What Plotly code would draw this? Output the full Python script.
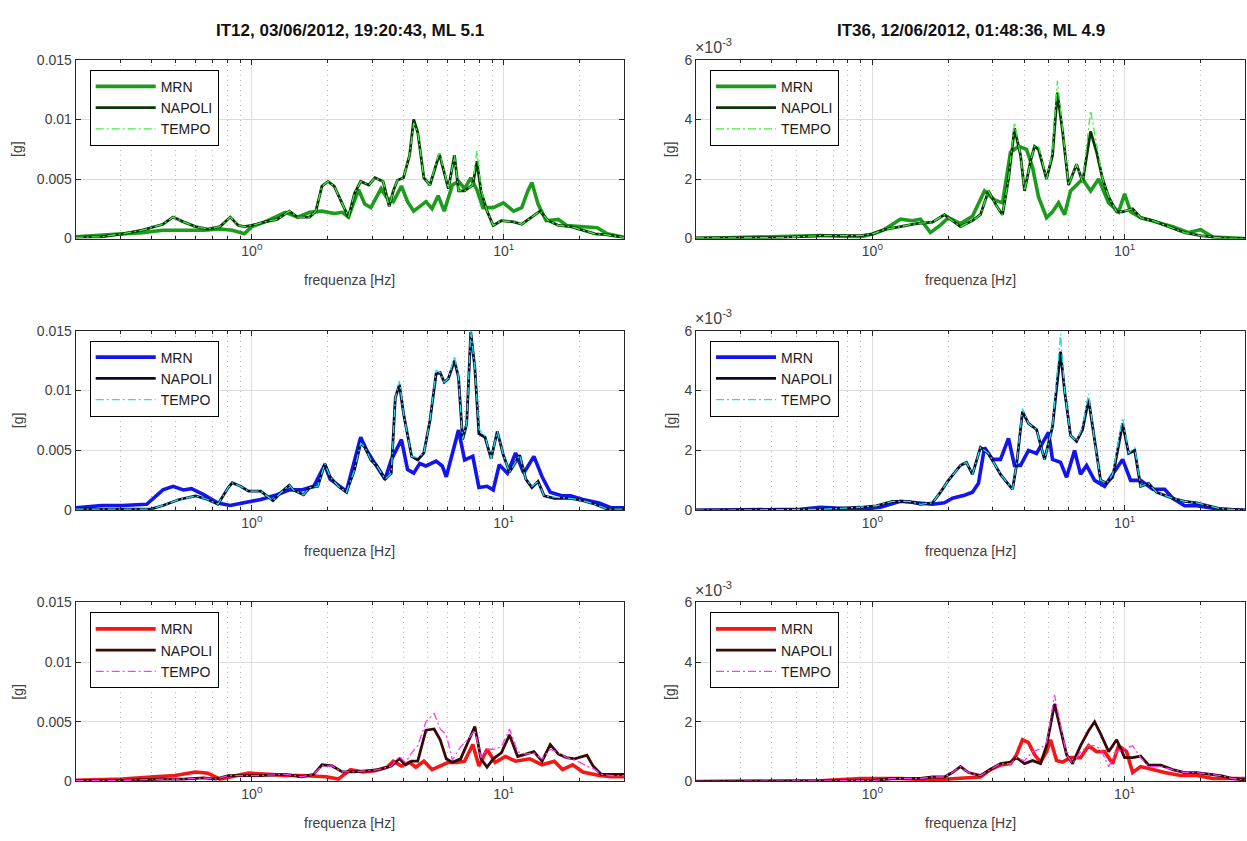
import math
import plotly.graph_objects as go

W, H = 1247, 841

# ---------------------------------------------------------------------------
# IT12, 03/06/2012, 19:20:43, ML 5.1  (left column)
# ---------------------------------------------------------------------------
it12_green_freq = [0.200, 0.254, 0.306, 0.368, 0.444, 0.487, 0.535, 0.598, 0.669, 0.748,
                   0.821, 0.884, 0.935, 1.0, 1.127, 1.260, 1.409, 1.518, 1.697, 1.795,
                   1.898, 2.007, 2.123, 2.287, 2.418, 2.557, 2.704, 2.913, 3.081, 3.319,
                   3.510, 3.643, 3.782, 3.999, 4.229, 4.390, 4.556, 4.818, 5.095, 5.551,
                   5.803, 6.026, 6.372, 6.613, 6.993, 7.534, 7.820, 8.117, 8.584, 9.078,
                   9.779, 10.94, 11.78, 13.17, 13.93, 15.01, 16.48, 18.42, 20.60, 23.04,
                   25.76, 30.0]
it12_green_napoli = [0.0001, 0.00015, 0.0004, 0.0007, 0.0012, 0.0018, 0.0014, 0.0010, 0.0008, 0.0010,
                     0.0018, 0.0011, 0.0010, 0.0011, 0.0014, 0.0016, 0.0023, 0.0018, 0.0018, 0.0023,
                     0.0044, 0.0048, 0.0044, 0.0029, 0.0018, 0.0038, 0.0048, 0.0045, 0.0051, 0.0048,
                     0.0027, 0.0040, 0.0049, 0.0051, 0.0070, 0.0100, 0.0089, 0.0051, 0.0045, 0.0071,
                     0.0056, 0.0042, 0.0070, 0.0040, 0.0040, 0.0045, 0.0065, 0.0040, 0.0023, 0.0011,
                     0.0015, 0.0014, 0.0012, 0.0019, 0.0023, 0.0015, 0.0011, 0.0010, 0.0007, 0.0004,
                     0.0003, 0.0001]
it12_green_tempo = [0.0001, 0.00015, 0.0004, 0.0007, 0.0012, 0.0018, 0.0014, 0.0010, 0.0008, 0.0010,
                    0.0018, 0.0011, 0.0010, 0.0011, 0.0014, 0.0016, 0.0023, 0.0018, 0.0018, 0.0023,
                    0.0044, 0.0048, 0.0044, 0.0029, 0.0018, 0.0038, 0.0048, 0.0045, 0.0051, 0.0048,
                    0.0027, 0.0040, 0.0049, 0.0051, 0.0070, 0.0097, 0.0089, 0.0051, 0.0045, 0.0073,
                    0.0056, 0.0042, 0.0070, 0.0040, 0.0040, 0.0045, 0.0074, 0.0042, 0.0023, 0.0011,
                    0.0015, 0.0014, 0.0012, 0.0019, 0.0023, 0.0015, 0.0011, 0.0010, 0.0007, 0.0004,
                    0.0003, 0.0001]
it12_green_mrn_freq = [0.200, 0.254, 0.306, 0.368, 0.444, 0.535, 0.644, 0.748, 0.836, 0.935,
                       1.0, 1.127, 1.357, 1.518, 1.697, 1.898, 2.123, 2.287, 2.418, 2.654,
                       2.807, 2.968, 3.259, 3.445, 3.643, 3.925, 4.151, 4.390, 4.642, 4.909,
                       5.191, 5.489, 5.803, 6.254, 6.613, 6.993, 7.395, 7.820, 8.269, 9.078,
                       9.963, 10.94, 11.78, 12.46, 12.93, 13.68, 14.73, 16.48, 17.75, 19.85,
                       23.48, 25.76, 30.0]
it12_green_mrn = [0.00015, 0.0003, 0.0004, 0.0005, 0.0007, 0.0007, 0.0007, 0.0008, 0.0007, 0.0004,
                  0.0010, 0.0014, 0.0022, 0.0018, 0.0022, 0.0023, 0.0021, 0.0022, 0.0018, 0.0041,
                  0.0029, 0.0026, 0.0042, 0.0034, 0.0031, 0.0044, 0.0031, 0.0023, 0.0027, 0.0031,
                  0.0025, 0.0036, 0.0023, 0.0045, 0.0048, 0.0042, 0.0051, 0.0041, 0.0026, 0.0026,
                  0.0030, 0.0023, 0.0026, 0.0040, 0.0047, 0.0029, 0.0015, 0.0016, 0.0011, 0.0010,
                  0.0009, 0.0004, 0.0001]

it12_blue_freq = [0.200, 0.306, 0.397, 0.444, 0.515, 0.598, 0.669, 0.734, 0.806, 0.836,
                  0.901, 0.971, 1.085, 1.214, 1.308, 1.409, 1.462, 1.605, 1.697, 1.828,
                  1.948, 2.045, 2.203, 2.374, 2.557, 2.704, 2.807, 2.968, 3.139, 3.381,
                  3.576, 3.711, 3.853, 3.999, 4.151, 4.308, 4.556, 4.818, 5.095, 5.388,
                  5.593, 5.803, 6.026, 6.372, 6.613, 6.865, 7.125, 7.395, 7.676, 7.967,
                  8.425, 8.911, 9.422, 9.963, 10.54, 11.56, 12.23, 12.93, 13.68, 14.46,
                  15.87, 18.42, 20.60, 23.04, 25.76, 30.0]
it12_blue_napoli = [0.0001, 0.0001, 0.0001, 0.0004, 0.0009, 0.0012, 0.0009, 0.0005, 0.0019, 0.0023,
                    0.0020, 0.0016, 0.0016, 0.0008, 0.0015, 0.0021, 0.0017, 0.0013, 0.0019, 0.0020,
                    0.0039, 0.0028, 0.0020, 0.0015, 0.0034, 0.0056, 0.0053, 0.0042, 0.0037, 0.0026,
                    0.0031, 0.0094, 0.0105, 0.0081, 0.0064, 0.0045, 0.0042, 0.0048, 0.0075, 0.0114,
                    0.0115, 0.0107, 0.0110, 0.0125, 0.0111, 0.0059, 0.0072, 0.0149, 0.0119, 0.0064,
                    0.0061, 0.0043, 0.0066, 0.0046, 0.0032, 0.0046, 0.0026, 0.0019, 0.0024, 0.0012,
                    0.0010, 0.0010, 0.0008, 0.0005, 0.0001, 0.0001]
it12_blue_tempo = [0.0001, 0.0001, 0.0001, 0.0004, 0.0009, 0.0012, 0.0009, 0.0005, 0.0019, 0.0023,
                   0.0020, 0.0016, 0.0016, 0.0008, 0.0015, 0.0021, 0.0017, 0.0013, 0.0019, 0.0020,
                   0.0039, 0.0028, 0.0020, 0.0015, 0.0034, 0.0056, 0.0053, 0.0042, 0.0037, 0.0026,
                   0.0031, 0.0094, 0.0108, 0.0081, 0.0064, 0.0045, 0.0044, 0.0048, 0.0075, 0.0117,
                   0.0115, 0.0107, 0.0110, 0.0129, 0.0111, 0.0059, 0.0072, 0.0150, 0.0119, 0.0068,
                   0.0062, 0.0043, 0.0066, 0.0046, 0.0032, 0.0046, 0.0026, 0.0020, 0.0024, 0.0012,
                   0.0011, 0.0010, 0.0008, 0.0005, 0.0001, 0.0001]
it12_blue_mrn_freq = [0.200, 0.254, 0.306, 0.3825, 0.444, 0.487, 0.535, 0.576, 0.644, 0.734,
                      0.821, 0.935, 1.085, 1.260, 1.409, 1.575, 1.762, 1.948, 2.045, 2.203,
                      2.374, 2.704, 2.860, 3.081, 3.381, 3.576, 3.925, 4.151, 4.390, 4.642,
                      4.909, 5.388, 5.698, 5.913, 6.254, 6.613, 6.993, 7.534, 7.967, 8.584,
                      9.078, 9.598, 10.34, 11.14, 12.00, 13.17, 14.19, 15.29, 17.10, 18.42,
                      20.60, 23.91, 26.74, 30.0]
it12_blue_mrn = [0.0002, 0.0004, 0.0004, 0.0005, 0.0017, 0.0020, 0.0017, 0.0018, 0.0013, 0.0006,
                 0.0004, 0.0006, 0.0009, 0.0013, 0.0017, 0.0017, 0.0020, 0.0038, 0.0026, 0.0021,
                 0.0016, 0.0061, 0.0050, 0.0039, 0.0026, 0.0042, 0.0059, 0.0034, 0.0031, 0.0039,
                 0.0037, 0.0041, 0.0037, 0.0028, 0.0048, 0.0067, 0.0042, 0.0045, 0.0019, 0.0020,
                 0.0017, 0.0038, 0.0031, 0.0048, 0.0031, 0.0045, 0.0028, 0.0015, 0.0012, 0.0012,
                 0.0009, 0.0006, 0.0002, 0.0002]

it12_red_freq = [0.200, 0.306, 0.444, 0.535, 0.644, 0.721, 0.806, 0.935, 1.085, 1.357,
                 1.575, 1.762, 1.898, 2.084, 2.287, 2.557, 2.860, 3.198, 3.576, 3.853,
                 4.074, 4.308, 4.556, 4.909, 5.289, 5.593, 5.913, 6.254, 6.739, 7.258,
                 7.676, 8.117, 8.584, 9.078, 9.779, 10.54, 11.35, 12.23, 13.17, 14.19,
                 15.29, 16.48, 17.75, 19.12, 21.38, 22.61, 24.36, 26.74, 30.0]
it12_red_napoli = [0.0001, 0.0001, 0.0002, 0.0002, 0.0003, 0.0002, 0.0005, 0.0005, 0.0005, 0.0006,
                   0.0004, 0.0006, 0.0014, 0.0013, 0.0008, 0.0008, 0.0009, 0.0010, 0.0013, 0.0019,
                   0.0014, 0.0017, 0.0017, 0.0043, 0.0044, 0.0035, 0.0019, 0.0016, 0.0019, 0.0035,
                   0.0046, 0.0019, 0.0012, 0.0019, 0.0024, 0.0039, 0.0021, 0.0023, 0.0025, 0.0017,
                   0.0031, 0.0023, 0.0020, 0.0019, 0.0022, 0.0013, 0.0006, 0.0006, 0.0006]
it12_red_tempo = [0.0001, 0.0001, 0.0002, 0.0002, 0.0003, 0.0002, 0.0005, 0.0005, 0.0005, 0.0006,
                  0.0004, 0.0006, 0.0013, 0.0013, 0.0008, 0.0008, 0.0009, 0.0010, 0.0013, 0.0021,
                  0.0016, 0.0024, 0.0030, 0.0050, 0.0057, 0.0044, 0.0039, 0.0018, 0.0029, 0.0036,
                  0.0043, 0.0020, 0.0027, 0.0027, 0.0029, 0.0044, 0.0025, 0.0023, 0.0024, 0.0019,
                  0.0027, 0.0024, 0.0020, 0.0018, 0.0013, 0.0011, 0.0006, 0.0005, 0.0005]
it12_red_mrn_freq = [0.200, 0.306, 0.412, 0.496, 0.598, 0.669, 0.748, 0.836, 0.971, 1.170,
                     1.357, 1.575, 1.828, 1.970, 2.203, 2.464, 2.755, 3.081, 3.445, 3.643,
                     3.925, 4.229, 4.472, 4.818, 5.191, 5.593, 6.026, 6.492, 6.993, 7.534,
                     7.967, 8.584, 9.248, 10.15, 11.14, 12.69, 14.19, 15.87, 17.10, 18.77,
                     20.60, 23.91, 26.74, 30.0]
it12_red_mrn = [0.0001, 0.0002, 0.0004, 0.0005, 0.0008, 0.0007, 0.0002, 0.0004, 0.0007, 0.0006,
                0.0005, 0.0005, 0.0004, 0.0004, 0.0002, 0.0010, 0.0008, 0.0009, 0.0012, 0.0017,
                0.0013, 0.0016, 0.0012, 0.0017, 0.0010, 0.0013, 0.0016, 0.0016, 0.0017, 0.0031,
                0.0013, 0.0027, 0.0016, 0.0021, 0.0017, 0.0019, 0.0014, 0.0017, 0.0010, 0.0014,
                0.0008, 0.0005, 0.0004, 0.0004]

# ---------------------------------------------------------------------------
# IT36, 12/06/2012, 01:48:36, ML 4.9  (right column)
# ---------------------------------------------------------------------------
it36_green_freq = [0.200, 0.4315, 0.622, 0.896, 1.0, 1.116, 1.292, 1.495, 1.730, 1.931,
                   2.077, 2.235, 2.494, 2.683, 2.886, 3.105, 3.281, 3.465, 3.660, 3.867,
                   4.011, 4.236, 4.394, 4.557, 4.903, 5.179, 5.412, 5.675, 5.995, 6.449,
                   6.813, 7.330, 7.743, 8.180, 8.641, 9.296, 9.819, 10.76, 11.57, 12.92,
                   14.95, 17.30, 20.03, 24.04, 30.0]
it36_green_napoli = [0.00002, 0.00003, 0.0001, 0.0001, 0.00015, 0.0003, 0.0004, 0.0005, 0.00055, 0.0008,
                     0.0006, 0.0004, 0.0006, 0.0008, 0.0016, 0.0011, 0.0008, 0.0020, 0.0037, 0.0028,
                     0.0016, 0.0026, 0.0031, 0.0030, 0.0020, 0.0028, 0.0049, 0.0036, 0.0018, 0.0025,
                     0.0019, 0.0036, 0.0029, 0.0020, 0.0014, 0.0009, 0.0009, 0.0010, 0.0007, 0.0006,
                     0.0004, 0.0002, 0.0001, 0.00002, 0.0]
it36_green_tempo = [0.00002, 0.00003, 0.0001, 0.0001, 0.00015, 0.0003, 0.0004, 0.0005, 0.00055, 0.0008,
                    0.0006, 0.0004, 0.0006, 0.0008, 0.0016, 0.0011, 0.0008, 0.0020, 0.0039, 0.0028,
                    0.0016, 0.0026, 0.0031, 0.0031, 0.0020, 0.0029, 0.0053, 0.0036, 0.0018, 0.0025,
                    0.0019, 0.0043, 0.0031, 0.0020, 0.0014, 0.0009, 0.0009, 0.0010, 0.0007, 0.0006,
                    0.0004, 0.0002, 0.0001, 0.00002, 0.0]
it36_green_mrn_freq = [0.200, 0.4315, 0.622, 0.896, 1.0, 1.116, 1.292, 1.441, 1.551, 1.699,
                       1.861, 2.003, 2.235, 2.494, 2.783, 3.049, 3.281, 3.528, 3.797, 4.084,
                       4.314, 4.557, 4.903, 5.179, 5.471, 5.779, 6.105, 6.449, 6.813, 7.330,
                       7.886, 8.641, 9.467, 10.0, 10.56, 11.57, 13.40, 15.51, 17.95, 20.03,
                       22.35, 30.0]
it36_green_mrn = [0.0, 0.00005, 0.0001, 0.00005, 0.00015, 0.0003, 0.00065, 0.0006, 0.00065, 0.0002,
                  0.00045, 0.0007, 0.0005, 0.00075, 0.0016, 0.0013, 0.0012, 0.0029, 0.0031, 0.0030,
                  0.0024, 0.0014, 0.0007, 0.0009, 0.0012, 0.0008, 0.0016, 0.0018, 0.0020, 0.0016,
                  0.0020, 0.0012, 0.0009, 0.0015, 0.0009, 0.0007, 0.00055, 0.0004, 0.0002, 0.0003,
                  0.00005, 0.0]

it36_blue_freq = [0.200, 0.622, 0.896, 1.037, 1.200, 1.389, 1.551, 1.730, 1.861, 2.003,
                  2.235, 2.360, 2.494, 2.683, 2.886, 3.221, 3.594, 3.728, 3.938, 4.159,
                  4.474, 4.814, 5.179, 5.572, 5.779, 6.105, 6.449, 6.813, 7.197, 7.603,
                  8.031, 8.484, 8.963, 9.819, 10.37, 10.96, 11.57, 12.45, 13.40, 15.51,
                  17.30, 19.31, 21.54, 24.04, 30.0]
it36_blue_napoli = [0.0, 0.00003, 0.0001, 0.00015, 0.0003, 0.0003, 0.0002, 0.00025, 0.0006, 0.0010,
                    0.0015, 0.0016, 0.0012, 0.0021, 0.0019, 0.0012, 0.0007, 0.0015, 0.0033, 0.0029,
                    0.0027, 0.0017, 0.0028, 0.0053, 0.0040, 0.0025, 0.0023, 0.0027, 0.0037, 0.0023,
                    0.0010, 0.0009, 0.0011, 0.0029, 0.0019, 0.0020, 0.0008, 0.0009, 0.0006, 0.0004,
                    0.0003, 0.00025, 0.00015, 0.00005, 0.0]
it36_blue_tempo = [0.0, 0.00003, 0.0001, 0.00015, 0.0003, 0.0003, 0.0002, 0.00025, 0.0006, 0.0010,
                   0.0015, 0.0016, 0.0012, 0.0021, 0.0019, 0.0012, 0.0007, 0.0015, 0.0034, 0.0029,
                   0.0027, 0.0017, 0.0028, 0.0059, 0.0040, 0.0025, 0.0023, 0.0028, 0.0039, 0.0023,
                   0.0010, 0.0009, 0.0012, 0.0031, 0.0019, 0.0021, 0.0008, 0.0009, 0.0006, 0.0004,
                   0.0003, 0.00025, 0.00015, 0.00005, 0.0]
it36_blue_mrn_freq = [0.200, 0.518, 0.622, 0.896, 1.076, 1.292, 1.495, 1.730, 1.931, 2.077,
                      2.318, 2.494, 2.634, 2.783, 2.994, 3.221, 3.465, 3.660, 3.867, 4.159,
                      4.474, 4.814, 4.993, 5.179, 5.572, 5.886, 6.332, 6.689, 7.066, 7.603,
                      8.331, 8.963, 9.819, 10.56, 11.57, 12.92, 14.41, 15.51, 17.30, 19.31,
                      24.04, 30.0]
it36_blue_mrn = [0.0, 0.00003, 0.0001, 0.00003, 0.0001, 0.0003, 0.00025, 0.0002, 0.00025, 0.0004,
                 0.0005, 0.0006, 0.0009, 0.0021, 0.0017, 0.0017, 0.0024, 0.0015, 0.0015, 0.0020,
                 0.0019, 0.0024, 0.0026, 0.0017, 0.0016, 0.0011, 0.0020, 0.0012, 0.0015, 0.0010,
                 0.0008, 0.0012, 0.0017, 0.0010, 0.0010, 0.0007, 0.0007, 0.0004, 0.00015, 0.00015,
                 0.00003, 0.0]

it36_red_freq = [0.200, 0.622, 1.0, 1.200, 1.551, 1.730, 1.931, 2.077, 2.235, 2.404,
                 2.683, 2.939, 3.221, 3.528, 3.728, 4.011, 4.314, 4.642, 4.903, 5.275,
                 5.572, 5.886, 6.218, 6.689, 7.197, 7.603, 8.031, 8.641, 9.296, 10.0,
                 10.76, 11.57, 12.45, 13.90, 15.51, 17.30, 19.31, 21.54, 24.04, 26.83,
                 30.0]
it36_red_napoli = [0.0, 0.00002, 0.00003, 0.0001, 0.0001, 0.00015, 0.00015, 0.0003, 0.0005, 0.0003,
                   0.0002, 0.0004, 0.0006, 0.00065, 0.0008, 0.0006, 0.0007, 0.0006, 0.0012, 0.0026,
                   0.0018, 0.0009, 0.0006, 0.0012, 0.0017, 0.0020, 0.0016, 0.0010, 0.0014, 0.0008,
                   0.0008, 0.00085, 0.00055, 0.00055, 0.0004, 0.0003, 0.0003, 0.00025, 0.0002, 0.0001,
                   0.00005]
it36_red_tempo = [0.0, 0.00002, 0.00003, 0.0001, 0.0001, 0.00015, 0.00015, 0.0003, 0.0005, 0.0003,
                  0.0002, 0.0004, 0.0006, 0.0006, 0.0008, 0.0007, 0.0010, 0.0011, 0.0013, 0.0029,
                  0.0019, 0.0009, 0.0006, 0.0010, 0.0012, 0.0012, 0.0011, 0.0005, 0.0010, 0.0011,
                  0.0012, 0.0008, 0.0005, 0.0005, 0.0004, 0.0003, 0.0003, 0.00025, 0.0002, 0.0001,
                  0.00005]
it36_red_mrn_freq = [0.200, 0.622, 0.896, 1.292, 1.730, 2.077, 2.404, 2.683, 2.939, 3.221,
                     3.528, 3.728, 3.938, 4.159, 4.394, 4.642, 4.903, 5.085, 5.372, 5.675,
                     6.105, 6.689, 7.197, 7.743, 8.331, 8.963, 9.467, 10.18, 10.76, 11.57,
                     12.92, 14.41, 16.68, 19.31, 22.35, 30.0]
it36_red_mrn = [0.0, 0.00002, 0.0001, 0.0001, 0.00005, 0.0001, 0.00015, 0.00015, 0.0004, 0.00055,
                0.0006, 0.0009, 0.0014, 0.0013, 0.0009, 0.00065, 0.0010, 0.0014, 0.0007, 0.00065,
                0.0008, 0.0008, 0.0012, 0.0010, 0.0010, 0.0006, 0.0012, 0.0010, 0.0003, 0.0005,
                0.0004, 0.0003, 0.0002, 0.0002, 0.0001, 0.0001]

# Axis ticks and labels
x_range_hz = [0.2, 30.0]
x_major_ticks = [1, 10]
x_major_labels = ["10<sup>0</sup>", "10<sup>1</sup>"]
x_minor_ticks = [0.2, 0.3, 0.4, 0.5, 0.6, 0.7, 0.8, 0.9, 2, 3, 4, 5, 6, 7, 8, 9, 20, 30]
y_ticks_it12 = [0, 0.005, 0.01, 0.015]
y_labels_it12 = ["0", "0.005", "0.01", "0.015"]
y_ticks_it36 = [0, 0.002, 0.004, 0.006]
y_labels_it36 = ["0", "2", "4", "6"]

titles = ["IT12, 03/06/2012, 19:20:43, ML 5.1", "IT36, 12/06/2012, 01:48:36, ML 4.9"]
series_names = ["MRN", "NAPOLI", "TEMPO"]

# line colours per row: (MRN, NAPOLI, TEMPO)
row_colors = [
    ("#1c9c1c", "#073607", "#3df03d"),
    ("#1414ee", "#0a0a30", "#1de0e6"),
    ("#f51616", "#3a0606", "#ff38ff"),
]

# ---------------------------------------------------------------------------
# Layout geometry (pixels in the page)
# ---------------------------------------------------------------------------
col_px = [(75.7, 624.0), (696.0, 1245.0)]
row_px = [(53.0, 235.0), (329.0, 512.0), (606.0, 788.5)]

FONT = "Liberation Sans, Arial, Helvetica, sans-serif"
AX_COLOR = "#262626"
TXT_COLOR = "#404040"

panels = [
    # (row, col, mrn_f, mrn, f, napoli, tempo)
    (0, 0, it12_green_mrn_freq, it12_green_mrn, it12_green_freq, it12_green_napoli, it12_green_tempo),
    (0, 1, it36_green_mrn_freq, it36_green_mrn, it36_green_freq, it36_green_napoli, it36_green_tempo),
    (1, 0, it12_blue_mrn_freq, it12_blue_mrn, it12_blue_freq, it12_blue_napoli, it12_blue_tempo),
    (1, 1, it36_blue_mrn_freq, it36_blue_mrn, it36_blue_freq, it36_blue_napoli, it36_blue_tempo),
    (2, 0, it12_red_mrn_freq, it12_red_mrn, it12_red_freq, it12_red_napoli, it12_red_tempo),
    (2, 1, it36_red_mrn_freq, it36_red_mrn, it36_red_freq, it36_red_napoli, it36_red_tempo),
]

fig = go.Figure()
layout = dict(
    width=W, height=H, autosize=False,
    margin=dict(l=0, r=0, t=0, b=0),
    paper_bgcolor="white", plot_bgcolor="white",
    font=dict(family=FONT, size=14, color=TXT_COLOR),
    showlegend=True,
)
annotations = []

for i, (r, c, mf, mv, f, nv, tv) in enumerate(panels):
    k = i + 1
    xa = "x" if k == 1 else f"x{k}"
    ya = "y" if k == 1 else f"y{k}"
    lg = "legend" if k == 1 else f"legend{k}"
    cm, cn, ct = row_colors[r]

    fig.add_trace(go.Scatter(x=mf, y=mv, mode="lines", name="MRN", xaxis=xa, yaxis=ya,
                             legend=lg, line=dict(color=cm, width=3.6)))
    fig.add_trace(go.Scatter(x=f, y=nv, mode="lines", name="NAPOLI", xaxis=xa, yaxis=ya,
                             legend=lg, line=dict(color=cn, width=2.8)))
    fig.add_trace(go.Scatter(x=f, y=tv, mode="lines", name="TEMPO", xaxis=xa, yaxis=ya,
                             legend=lg, line=dict(color=ct, width=1.3, dash="8px,3px,2px,3px")))

    x0, x1 = col_px[c]
    top, bot = row_px[r]
    xd = [x0 / W, x1 / W]
    yd = [1 - bot / H, 1 - top / H]

    layout["xaxis" if k == 1 else f"xaxis{k}"] = dict(
        domain=xd, anchor=ya, type="log",
        range=[math.log10(x_range_hz[0]), math.log10(x_range_hz[1])],
        tickmode="array", tickvals=x_major_ticks, ticktext=x_major_labels,
        ticks="inside", ticklen=5, tickcolor=AX_COLOR,
        showline=True, linecolor=AX_COLOR, linewidth=1, mirror="ticks",
        showgrid=True, gridcolor="#dcdcdc", gridwidth=1,
        zeroline=False, tickfont=dict(size=14, color=TXT_COLOR),
        minor=dict(tickmode="array", tickvals=x_minor_ticks, ticks="inside", ticklen=3,
                   tickcolor=AX_COLOR, showgrid=True, gridcolor="#b8b8b8",
                   griddash="1px,4px", gridwidth=1),
    )
    if c == 0:
        yt, yl, yr = y_ticks_it12, y_labels_it12, [0, 0.015]
    else:
        yt, yl, yr = y_ticks_it36, y_labels_it36, [0, 0.006]
    layout["yaxis" if k == 1 else f"yaxis{k}"] = dict(
        domain=yd, anchor=xa, range=yr,
        tickmode="array", tickvals=yt, ticktext=yl,
        ticks="inside", ticklen=5, tickcolor=AX_COLOR,
        showline=True, linecolor=AX_COLOR, linewidth=1, mirror="ticks",
        showgrid=True, gridcolor="#dcdcdc", gridwidth=1,
        zeroline=False, tickfont=dict(size=14, color=TXT_COLOR),
    )

    layout[lg] = dict(
        x=(x0 + 14) / W, y=1 - (top + 10) / H, xanchor="left", yanchor="top",
        bgcolor="white", bordercolor="#000000", borderwidth=1,
        font=dict(family=FONT, size=14, color="#1a1a1a"),
        itemwidth=60, tracegroupgap=0, traceorder="normal",
    )

    cx = (x0 + x1) / 2 / W
    annotations.append(dict(text="frequenza [Hz]", x=cx, y=1 - (bot + 42) / H,
                            xref="paper", yref="paper", showarrow=False,
                            xanchor="center", yanchor="middle",
                            font=dict(size=14, color=TXT_COLOR)))
    annotations.append(dict(text="[g]", x=(x0 - 58 if c == 0 else x0 - 26) / W,
                            y=1 - (top + bot) / 2 / H, textangle=-90,
                            xref="paper", yref="paper", showarrow=False,
                            xanchor="center", yanchor="middle",
                            font=dict(size=14, color=TXT_COLOR)))
    if c == 1:
        annotations.append(dict(text="\u00d710<sup>-3</sup>", x=(x0 - 3) / W, y=1 - (top - 2) / H,
                                xref="paper", yref="paper", showarrow=False,
                                xanchor="left", yanchor="bottom",
                                font=dict(size=16, color=TXT_COLOR)))

for c, t in enumerate(titles):
    x0, x1 = col_px[c]
    annotations.append(dict(text=f"<b>{t}</b>", x=(x0 + x1) / 2 / W, y=1 - 23 / H,
                            xref="paper", yref="paper", showarrow=False,
                            xanchor="center", yanchor="middle",
                            font=dict(size=17, color="#111111")))

layout["annotations"] = annotations
fig.update_layout(**layout)
fig.write_html("out.html")
